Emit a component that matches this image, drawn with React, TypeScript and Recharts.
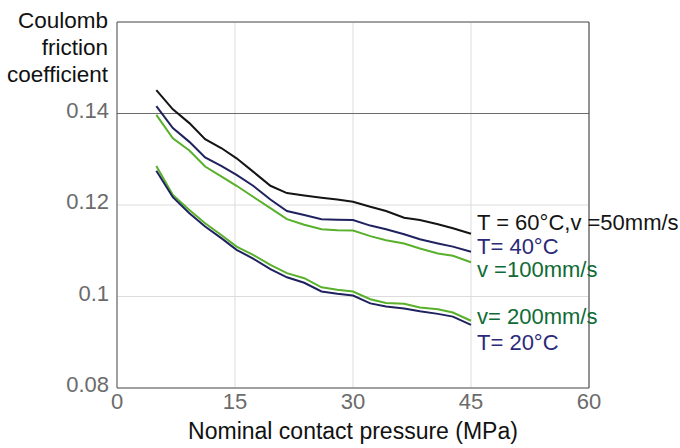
import {
  LineChart,
  Line,
  XAxis,
  YAxis,
  CartesianGrid,
  ReferenceLine,
  LabelList,
  Label,
} from "recharts";

// nominal contact pressure, MPa
const PRESSURE = [5, 7.1, 9.2, 11.2, 13.3, 15.2, 17.3, 19.5, 21.6, 23.8, 26, 28, 30, 32.2, 34.2, 36.5, 38.5, 40.8, 42.7, 45];

const T60_V50 = [0.1451, 0.1409, 0.1379, 0.1344, 0.1324, 0.1302, 0.1273, 0.1242, 0.1226, 0.1221, 0.1216, 0.1212, 0.1207, 0.1196, 0.1187, 0.1172, 0.1167, 0.1158, 0.1149, 0.1137];
const T40 = [0.1416, 0.1368, 0.1338, 0.1304, 0.1285, 0.1266, 0.1242, 0.1212, 0.1187, 0.1178, 0.1169, 0.1168, 0.1167, 0.1155, 0.1147, 0.1136, 0.1125, 0.1116, 0.1109, 0.1098];
const V100 = [0.1397, 0.1346, 0.1319, 0.1284, 0.1262, 0.1242, 0.1218, 0.1193, 0.1169, 0.1157, 0.1147, 0.1145, 0.1144, 0.1132, 0.1123, 0.1116, 0.1105, 0.1094, 0.1089, 0.1075];
const V200 = [0.1285, 0.1222, 0.1189, 0.116, 0.1134, 0.1109, 0.1091, 0.1069, 0.1051, 0.104, 0.102, 0.1015, 0.1011, 0.0994, 0.0986, 0.0984, 0.0976, 0.0972, 0.0965, 0.0947];
const T20 = [0.1275, 0.1217, 0.1182, 0.1153, 0.1127, 0.1102, 0.1083, 0.106, 0.1042, 0.103, 0.1011, 0.1006, 0.1002, 0.0985, 0.0978, 0.0974, 0.0968, 0.0962, 0.0956, 0.0938];

const X_TICKS = [0, 15, 30, 45, 60];
const Y_TICKS = [0.08, 0.1, 0.12, 0.14];
const Y_TITLE = ["Coulomb", "friction", "coefficient"];

const SERIES = [
  { key: "t60", values: T60_V50, stroke: "#141414", text: "T = 60°C,v =50mm/s", textColor: "#141414", dy: -4 },
  { key: "t40", values: T40, stroke: "#20225f", text: "T= 40°C", textColor: "#2b2a78", dy: 2 },
  { key: "v100", values: V100, stroke: "#58b02b", text: "v =100mm/s", textColor: "#0f6b35", dy: 15 },
  { key: "v200", values: V200, stroke: "#58b02b", text: "v= 200mm/s", textColor: "#0f6b35", dy: 3 },
  { key: "t20", values: T20, stroke: "#20225f", text: "T= 20°C", textColor: "#2b2a78", dy: 25 },
];

const FONT = "'Liberation Sans', Arial, sans-serif";

const rows = PRESSURE.map((p, i) => {
  const row: any = { p };
  for (const s of SERIES) row[s.key] = s.values[i];
  return row;
});

function XTick(props: any) {
  const { x, y, payload } = props;
  return (
    <text x={x} y={y + 13} textAnchor="middle" fontSize={22} fill="#6b6b6b" fontFamily={FONT}>
      {payload.value}
    </text>
  );
}

function YTick(props: any) {
  const { x, y, payload } = props;
  return (
    <text x={x} y={y + 4} textAnchor="end" fontSize={22} fill="#6b6b6b" fontFamily={FONT}>
      {String(payload.value)}
    </text>
  );
}

function endLabel(s: (typeof SERIES)[number]) {
  return (props: any) => {
    const { x, y, index } = props;
    if (index !== PRESSURE.length - 1) return null;
    return (
      <text x={x + 6} y={y + s.dy} fontSize={22} fill={s.textColor} fontFamily={FONT}>
        {s.text}
      </text>
    );
  };
}

export default function App() {
  return (
    <div style={{ width: 680, height: 448, background: "#fff" }}>
      <style>{"body{margin:0}"}</style>
      <LineChart width={680} height={448} data={rows} margin={{ top: 22, right: 91, bottom: 0, left: 0 }}>
        <CartesianGrid stroke="#dcdcdc" strokeWidth={1} />
        <XAxis
          dataKey="p"
          type="number"
          domain={[0, 60]}
          ticks={X_TICKS}
          tickLine={false}
          height={60}
          stroke="#555"
          tick={<XTick />}
        >
          <Label
            content={(p: any) => {
              const vb = p.viewBox;
              return (
                <text x={vb.x + vb.width / 2} y={vb.y + 51} textAnchor="middle" fontSize={23} fill="#111" fontFamily={FONT}>
                  Nominal contact pressure (MPa)
                </text>
              );
            }}
          />
        </XAxis>
        <YAxis
          type="number"
          domain={[0.08, 0.16]}
          ticks={Y_TICKS}
          tickLine={false}
          width={117}
          stroke="#555"
          tick={<YTick />}
        >
          <Label
            content={(p: any) => {
              const vb = p.viewBox;
              return (
                <text textAnchor="end" fontSize={22.5} fill="#111" fontFamily={FONT}>
                  {Y_TITLE.map((t, i) => (
                    <tspan key={t} x={vb.x + vb.width - 9} y={vb.y + 6 + i * 27}>
                      {t}
                    </tspan>
                  ))}
                </text>
              );
            }}
          />
        </YAxis>
        <ReferenceLine y={0.14} stroke="#6b6b6b" strokeWidth={1.2} />
        <ReferenceLine y={0.16} stroke="#555" strokeWidth={1.2} />
        <ReferenceLine x={60} stroke="#555" strokeWidth={1.2} />
        {SERIES.map((s) => (
          <Line
            key={s.key}
            dataKey={s.key}
            stroke={s.stroke}
            strokeWidth={2}
            dot={false}
            type="linear"
            isAnimationActive={false}
          >
            <LabelList dataKey={s.key} content={endLabel(s)} />
          </Line>
        ))}
      </LineChart>
    </div>
  );
}
